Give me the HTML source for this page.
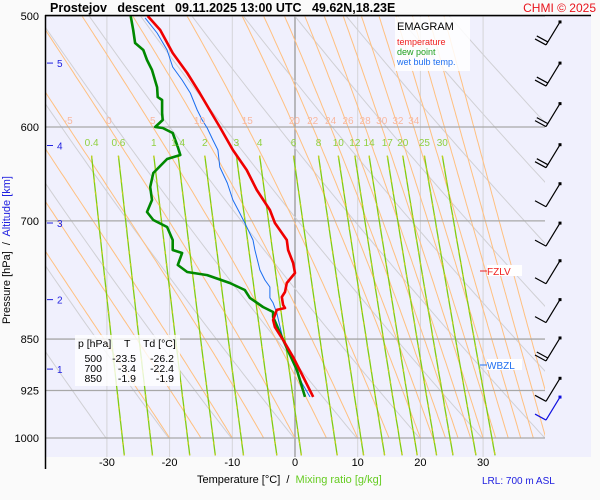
<!DOCTYPE html>
<html><head><meta charset="utf-8">
<style>
html,body{margin:0;padding:0;background:#fafafa;}
svg{display:block;font-family:"Liberation Sans",sans-serif;}
</style></head>
<body>
<svg id="chart" width="600" height="500" viewBox="0 0 600 500">
<defs>
<clipPath id="plotClip"><rect x="45" y="16" width="500" height="422"/></clipPath>
<clipPath id="mixClip"><rect x="45" y="16" width="500" height="441"/></clipPath>
</defs>
<rect x="45" y="16" width="546" height="441" fill="#f0f0fd"/>
<g id="grid"></g>
<g id="series"></g>
<g id="labels"></g>
<line x1="45" y1="15.5" x2="591" y2="15.5" stroke="#000" stroke-width="1.5"/>
<line x1="45.5" y1="15" x2="45.5" y2="469" stroke="#000" stroke-width="1.5"/>
<text x="50" y="12" font-size="12.5" font-weight="bold" xml:space="preserve">Prostejov   descent   09.11.2025 13:00 UTC   49.62N,18.23E</text>
<text x="596" y="12" font-size="12" fill="#e8141c" text-anchor="end">CHMI © 2025</text>
<g>
<rect x="395" y="17" width="75" height="54" fill="#fff" opacity="0.85"/>
<text x="397" y="30" font-size="11">EMAGRAM</text>
<text x="397" y="45" font-size="9" fill="#f02020">temperature</text>
<text x="397" y="55" font-size="9" fill="#20a020">dew point</text>
<text x="397" y="65" font-size="9" fill="#2070f0">wet bulb temp.</text>
</g>
<g font-size="10.5">
<rect x="75" y="335" width="105" height="51" fill="#fff" opacity="0.8"/>
<text x="78" y="347">p [hPa]</text>
<text x="124" y="347">T</text>
<text x="143" y="347">Td [°C]</text>
<text x="102" y="362" text-anchor="end">500</text>
<text x="136" y="362" text-anchor="end">-23.5</text>
<text x="174" y="362" text-anchor="end">-26.2</text>
<text x="102" y="372" text-anchor="end">700</text>
<text x="136" y="372" text-anchor="end">-3.4</text>
<text x="174" y="372" text-anchor="end">-22.4</text>
<text x="102" y="382" text-anchor="end">850</text>
<text x="136" y="382" text-anchor="end">-1.9</text>
<text x="174" y="382" text-anchor="end">-1.9</text>
</g>
<g>
<rect x="487" y="265" width="35" height="11" fill="#fff"/>
<line x1="480" y1="271" x2="487" y2="271" stroke="#f02020"/>
<text x="487" y="275" font-size="10" fill="#f02020">FZLV</text>
</g>
<g>
<rect x="487" y="359" width="35" height="11" fill="#fff"/>
<line x1="480" y1="365" x2="487" y2="365" stroke="#2070f0"/>
<text x="487" y="369" font-size="10" fill="#2070f0">WBZL</text>
</g>
<text x="10" y="250" font-size="11" text-anchor="middle" transform="rotate(-90 10 250)" xml:space="preserve">Pressure [hPa]  /  <tspan fill="#2020e0">Altitude [km]</tspan></text>
<text x="197" y="483" font-size="11" xml:space="preserve">Temperature [°C]  /  <tspan fill="#66cc22">Mixing ratio [g/kg]</tspan></text>
<text x="482" y="484" font-size="10" fill="#2020e0">LRL: 700 m ASL</text>
</svg>
<script>
// ---- data ----
const tempP = [500,511.6,531.3,549.1,567.4,583.5,600,623.1,643.9,665.4,687.6,702.5,722.4,734.3,750.1,762.6,775.2,786.8,793.3,803.7,807.7,810.3,823.7,833.3,851.2,875.4,904.6,934.8];
const tempT = [-23.5,-21.5,-19.5,-17.2,-15.2,-13.6,-12.0,-9.9,-7.7,-6.1,-4.0,-3.2,-1.3,-1.1,-0.3,0,-1.3,-1.6,-2.1,-1.9,-1.6,-2.9,-3.5,-3.2,-1.9,-0.3,1.3,2.9];
const dewP = [500,511.6,522.7,528.7,537.5,546.4,562.0,571.2,574.0,586.4,593.1,600,601.0,605.9,620.0,628.2,632.4,647.1,662.2,676.4,689.9,699.0,707.1,722.4,734.3,738.0,752.7,761.4,765.2,775.2,784.2,794.5,806.4,813.1,819.8,851.2,894.4,934.8];
const dewT = [-26.2,-25.8,-25.5,-24.2,-23.6,-22.8,-22.0,-21.9,-21.2,-21.2,-21.1,-22.3,-21.1,-19.5,-18.7,-18.3,-20.4,-22.6,-23.1,-22.8,-23.6,-22.6,-20.4,-19.5,-19.5,-18.0,-18.7,-17.2,-14.0,-10.4,-8.0,-7.2,-5.1,-3.5,-3.5,-1.9,0.3,1.6];
const wbP = [501.6,514.2,528.7,543.7,555.4,567.4,583.5,593.1,601.0,613.0,623.1,640.7,657.8,676.4,691.1,702.5,722.4,734.3,758.9,771.4,780.3,794.5,801.0,814.4,851.2,883.9,913.6,934.8];
const wbT = [-23.9,-22.0,-20.4,-19.5,-18.0,-16.7,-15.6,-14.8,-14.0,-13.1,-12.3,-12.0,-10.8,-9.9,-8.8,-8.0,-6.7,-6.4,-5.6,-4.8,-4.0,-4.0,-3.5,-2.9,-1.9,-0.3,1.1,2.4];
const pressureTicks = [500,600,700,850,925,1000];
const tempTicks = [-30,-20,-10,0,10,20,30];
const altTicks = ["5","4","3","2","1"];
const altP = [540.2,618.5,702.5,796.7,893.0];
const moistLabels = [-5,0,5,10,15,20,22,24,26,28,30,32,34];
const moistExtra = [-20,-15,-10,36,38,40,42];
const mixLabels = ["0.4","0.6","1","1.4","2","3","4","6","8","10","12","14","17","20","25","30"];
const dryThetas = [243,253,263,273,283,293,303,313,323,333,343,353,363];
const windP = [504.9,540.2,577.4,617.7,658.6,702.6,747.4,796.7,848.5,906.6];
const windBarbs = [2,2,2,2,1,1,1,1,2,1];
const lrlP = [935];
const lrlBarbs = [1];

// ---- axes ----
const X0 = 295, KX = 6.27, Y0 = 16, KY = 608.8;
function xT(t){ return X0 + t*KX; }
function yP(p){ return Y0 + KY*Math.log(p/500); }
const NS = "http://www.w3.org/2000/svg";
function mk(tag, attrs, parent){ const e=document.createElementNS(NS,tag); for(const k in attrs) e.setAttribute(k,attrs[k]); parent.appendChild(e); return e; }
const grid = document.getElementById('grid');
const series = document.getElementById('series');
const labels = document.getElementById('labels');

// vertical isotherms
tempTicks.forEach(t=>{
  const l = mk('line',{x1:xT(t),y1:16,x2:xT(t),y2:457,stroke:t===0?'#999':'#d4d4d8','stroke-width':t===0?1.3:1},grid);
  
  
  const tx = mk('text',{x:xT(t),y:466,'font-size':11,'text-anchor':'middle'},labels);
  tx.textContent = t;
  
  
});

// dry adiabats
const gDry = mk('g',{'clip-path':'url(#plotClip)'},grid);
dryThetas.forEach(th=>{
  let pts=[];
  for(let p=500;p<=1000;p+=10){ const T=th*Math.pow(p/1000,0.286)-273.15; pts.push(xT(T).toFixed(1)+','+yP(p).toFixed(1)); }
  const l = mk('polyline',{points:pts.join(' '),fill:'none',stroke:'#d0d0d4','stroke-width':1},gDry);
  
  
});

// moist adiabats
function es(T){ return 6.112*Math.exp(17.67*T/(T+243.5)); }
function moist(tw){
  const Rd=287,cp=1005,Lv=2.5e6,eps=0.622;
  let T=tw+273.15, p=1000, out=[[p,T-273.15]];
  while(p>480){
    const e=es(T-273.15), rs=eps*e/(p-e);
    const g=(Rd*T+Lv*rs)/(cp+Lv*Lv*rs*eps/(Rd*T*T));
    const dl=-0.005; T+=g*dl; p=p*Math.exp(dl); out.push([p,T-273.15]);
  }
  return out;
}
function tempAt(curve,pp){ for(let i=1;i<curve.length;i++){ if(curve[i][0]<=pp){ const a=curve[i-1],b=curve[i]; const f=(a[0]-pp)/(a[0]-b[0]); return a[1]+f*(b[1]-a[1]); } } return curve[curve.length-1][1]; }
const gMoist = mk('g',{'clip-path':'url(#plotClip)'},grid);
moistLabels.concat(moistExtra).forEach(tw=>{
  const c=moist(tw);
  const l = mk('polyline',{points:c.map(q=>xT(q[1]).toFixed(1)+','+yP(q[0]).toFixed(1)).join(' '),fill:'none',stroke:'#ffc080','stroke-width':1},gMoist);
  
  
});

// horizontal isobars
pressureTicks.forEach(p=>{
  const l = mk('line',{x1:45,y1:yP(p),x2:545,y2:yP(p),stroke:'#a8a8a8','stroke-width':1.3},grid);
  
  
  const tx = mk('text',{x:39,y:yP(p)+4,'font-size':11,'text-anchor':'end'},labels);
  tx.textContent = p;
  
  
});

// moist labels at 600 hPa
moistLabels.forEach(tw=>{
  const c=moist(tw);
  const tx = mk('text',{x:xT(tempAt(c,600)),y:yP(600)-3,'font-size':10,'text-anchor':'middle',fill:'#f8b8a0'},labels);
  tx.textContent = tw;
  
  
});

// mixing ratio lines
function tFromW(w,p){ const e=w*p/(622+w); const a=Math.log(e/6.112); return 243.5*a/(17.67-a); }
const gMix = mk('g',{'clip-path':'url(#mixClip)'},grid);
const pTopMix = 629;
mixLabels.forEach(ws=>{
  const w=parseFloat(ws);
  const pts=[];
  for(let p=pTopMix;p<=1035;p+=8){ pts.push(xT(tFromW(w,p)).toFixed(1)+','+yP(p).toFixed(1)); }
  const l = mk('polyline',{points:pts.join(' '),fill:'none',stroke:'#80cc10','stroke-width':1.3},gMix);
  
  
  const l2 = mk('polyline',{points:pts.join(' '),fill:'none',stroke:'#c0d020','stroke-width':1.3,'stroke-dasharray':'3,9'},gMix);
  
  
  const tx = mk('text',{x:xT(tFromW(w,pTopMix)),y:146,'font-size':10,'text-anchor':'middle',fill:'#90d040'},labels);
  tx.textContent = ws;
  
  
});

// altitude ticks
altTicks.forEach((a,i)=>{
  const y=yP(altP[i]);
  const l = mk('line',{x1:47,y1:y,x2:53,y2:y,stroke:'#2020e0'},labels);
  
  
  const tx = mk('text',{x:57,y:y+4,'font-size':10,fill:'#2020e0'},labels);
  tx.textContent = a;
  
  
});

// profiles
function profile(P,T,color,w,name){
  const l = mk('polyline',{points:P.map((p,i)=>xT(T[i]).toFixed(1)+','+yP(p).toFixed(1)).join(' '),fill:'none',stroke:color,'stroke-width':w,'stroke-linejoin':'round'},series);
  
  
}
profile(wbP,wbT,'#1a6ef0',1,'wet-bulb-line');
profile(dewP,dewT,'#008800',2.6,'dew-point-line');
profile(tempP,tempT,'#f00000',2.6,'temperature-line');

// wind barbs
function barb(p,n,color){
  const y=yP(p), tx=560, ty=y, bx=546, by=y+23;
  const g=mk('g',{stroke:color,'stroke-width':1.2,fill:'none'},series);
  
  
  mk('line',{x1:tx,y1:ty,x2:bx,y2:by},g);
  mk('rect',{x:tx-1.5,y:ty-1.5,width:3,height:3,fill:color,stroke:'none'},g);
  for(let k=0;k<n;k++){
    const sx=bx+k*1.8, sy=by-k*3;
    mk('line',{x1:sx,y1:sy,x2:sx-11,y2:sy-6},g);
  }
}
windP.forEach((p,i)=>barb(p,windBarbs[i],'#000'));
lrlP.forEach((p,i)=>barb(p,lrlBarbs[i],'#1010e0'));
</script>
</body></html>
